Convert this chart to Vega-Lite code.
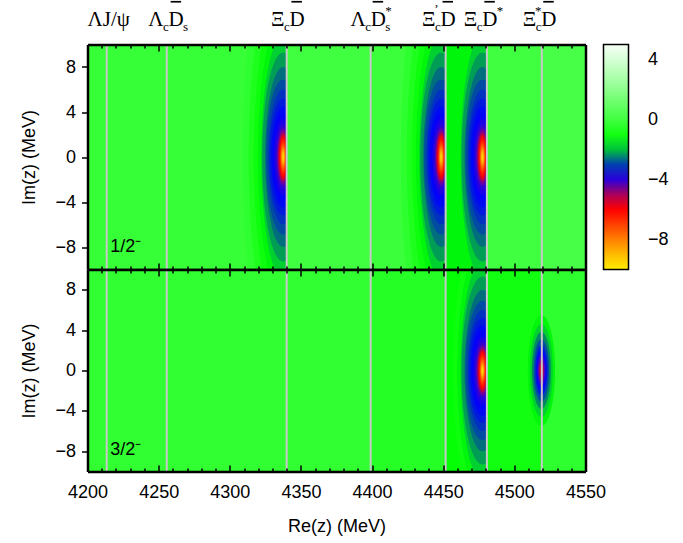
{
  "$schema": "https://vega.github.io/schema/vega-lite/v6.json",
  "background": "white",
  "padding": {"left": 20.5, "top": 0.5, "right": 5, "bottom": 5},
  "spacing": 0,
  "bounds": "flush",
  "datasets": {
    "strips": [
      {"p": "t", "s": 0, "a": 4200, "b": 4340, "v": -0.2},
      {"p": "t", "s": 1, "a": 4340, "b": 4399, "v": 0.0},
      {"p": "t", "s": 1, "a": 4399, "b": 4451.7, "v": -0.1},
      {"p": "t", "s": 2, "a": 4451.7, "b": 4480.7, "v": -1.5},
      {"p": "t", "s": 3, "a": 4480.7, "b": 4519.3, "v": 0.0},
      {"p": "t", "s": 3, "a": 4519.3, "b": 4550, "v": 0.2},
      {"p": "b", "s": 0, "a": 4451.7, "b": 4480.7, "v": -1.3},
      {"p": "b", "s": 1, "a": 4200, "b": 4399, "v": -0.3},
      {"p": "b", "s": 1, "a": 4399, "b": 4451.7, "v": -0.6},
      {"p": "b", "s": 1, "a": 4480.7, "b": 4519.3, "v": -1.0},
      {"p": "b", "s": 1, "a": 4519.3, "b": 4550, "v": -0.4}
    ],
    "poles": [
      {"p": "t", "s": 1, "x": 4337.5, "r": 20, "v": -0.4, "k": "a"},
      {"p": "t", "s": 1, "x": 4337.5, "r": 17, "v": -0.75, "k": "a"},
      {"p": "t", "s": 1, "x": 4337.5, "r": 14.5, "v": -1.1, "k": "a"},
      {"p": "t", "s": 1, "x": 4337.5, "r": 12.5, "v": -1.5, "k": "a"},
      {"p": "t", "s": 1, "x": 4337.5, "r": 10.8, "v": -1.9, "k": "a"},
      {"p": "t", "s": 1, "x": 4337.5, "r": 9.3, "v": -2.25, "k": "b"},
      {"p": "t", "s": 1, "x": 4337.5, "r": 8, "v": -2.6, "k": "b"},
      {"p": "t", "s": 1, "x": 4337.5, "r": 6.9, "v": -2.9, "k": "c"},
      {"p": "t", "s": 1, "x": 4337.5, "r": 6, "v": -3.15, "k": "c"},
      {"p": "t", "s": 1, "x": 4337.5, "r": 5.2, "v": -3.4, "k": "d"},
      {"p": "t", "s": 1, "x": 4337.5, "r": 4.5, "v": -3.6, "k": "d"},
      {"p": "t", "s": 1, "x": 4337.5, "r": 3.9, "v": -3.75, "k": "d"},
      {"p": "t", "s": 1, "x": 4337.5, "r": 3.35, "v": -3.9, "k": "d"},
      {"p": "t", "s": 1, "x": 4337.5, "r": 2.9, "v": -4.05, "k": "d"},
      {"p": "t", "s": 1, "x": 4337.5, "r": 2.55, "v": -4.4, "k": "c"},
      {"p": "t", "s": 1, "x": 4337.5, "r": 2.3, "v": -4.8, "k": "b"},
      {"p": "t", "s": 1, "x": 4337.5, "r": 2.1, "v": -5.3, "k": "b"},
      {"p": "t", "s": 1, "x": 4337.5, "r": 1.9, "v": -5.8, "k": "a"},
      {"p": "t", "s": 1, "x": 4337.5, "r": 1.7, "v": -6.2, "k": "a"},
      {"p": "t", "s": 1, "x": 4337.5, "r": 1.5, "v": -6.6, "k": "a"},
      {"p": "t", "s": 1, "x": 4337.5, "r": 1.3, "v": -7.0, "k": "a"},
      {"p": "t", "s": 1, "x": 4337.5, "r": 1.1, "v": -7.4, "k": "a"},
      {"p": "t", "s": 1, "x": 4337.5, "r": 0.95, "v": -7.8, "k": "a"},
      {"p": "t", "s": 1, "x": 4337.5, "r": 0.8, "v": -8.2, "k": "a"},
      {"p": "t", "s": 1, "x": 4337.5, "r": 0.65, "v": -8.6, "k": "a"},
      {"p": "t", "s": 1, "x": 4337.5, "r": 0.5, "v": -9.0, "k": "a"},
      {"p": "t", "s": 1, "x": 4337.5, "r": 0.38, "v": -9.4, "k": "a"},
      {"p": "t", "s": 2, "x": 4448.6, "r": 20, "v": -0.4, "k": "a"},
      {"p": "t", "s": 2, "x": 4448.6, "r": 17, "v": -0.75, "k": "a"},
      {"p": "t", "s": 2, "x": 4448.6, "r": 14.5, "v": -1.1, "k": "a"},
      {"p": "t", "s": 2, "x": 4448.6, "r": 12.5, "v": -1.5, "k": "a"},
      {"p": "t", "s": 2, "x": 4448.6, "r": 10.8, "v": -1.9, "k": "a"},
      {"p": "t", "s": 2, "x": 4448.6, "r": 9.3, "v": -2.25, "k": "b"},
      {"p": "t", "s": 2, "x": 4448.6, "r": 8, "v": -2.6, "k": "b"},
      {"p": "t", "s": 2, "x": 4448.6, "r": 6.9, "v": -2.9, "k": "c"},
      {"p": "t", "s": 2, "x": 4448.6, "r": 6, "v": -3.15, "k": "c"},
      {"p": "t", "s": 2, "x": 4448.6, "r": 5.2, "v": -3.4, "k": "d"},
      {"p": "t", "s": 2, "x": 4448.6, "r": 4.5, "v": -3.6, "k": "d"},
      {"p": "t", "s": 2, "x": 4448.6, "r": 3.9, "v": -3.75, "k": "d"},
      {"p": "t", "s": 2, "x": 4448.6, "r": 3.35, "v": -3.9, "k": "d"},
      {"p": "t", "s": 2, "x": 4448.6, "r": 2.9, "v": -4.05, "k": "d"},
      {"p": "t", "s": 2, "x": 4448.6, "r": 2.55, "v": -4.4, "k": "c"},
      {"p": "t", "s": 2, "x": 4448.6, "r": 2.3, "v": -4.8, "k": "b"},
      {"p": "t", "s": 2, "x": 4448.6, "r": 2.1, "v": -5.3, "k": "b"},
      {"p": "t", "s": 2, "x": 4448.6, "r": 1.9, "v": -5.8, "k": "a"},
      {"p": "t", "s": 2, "x": 4448.6, "r": 1.7, "v": -6.2, "k": "a"},
      {"p": "t", "s": 2, "x": 4448.6, "r": 1.5, "v": -6.6, "k": "a"},
      {"p": "t", "s": 2, "x": 4448.6, "r": 1.3, "v": -7.0, "k": "a"},
      {"p": "t", "s": 2, "x": 4448.6, "r": 1.1, "v": -7.4, "k": "a"},
      {"p": "t", "s": 2, "x": 4448.6, "r": 0.95, "v": -7.8, "k": "a"},
      {"p": "t", "s": 2, "x": 4448.6, "r": 0.8, "v": -8.2, "k": "a"},
      {"p": "t", "s": 2, "x": 4448.6, "r": 0.65, "v": -8.6, "k": "a"},
      {"p": "t", "s": 2, "x": 4448.6, "r": 0.5, "v": -9.0, "k": "a"},
      {"p": "t", "s": 2, "x": 4448.6, "r": 0.38, "v": -9.4, "k": "a"},
      {"p": "t", "s": 3, "x": 4477.6, "r": 10.8, "v": -1.9, "k": "a"},
      {"p": "t", "s": 3, "x": 4477.6, "r": 9.3, "v": -2.25, "k": "b"},
      {"p": "t", "s": 3, "x": 4477.6, "r": 8, "v": -2.6, "k": "b"},
      {"p": "t", "s": 3, "x": 4477.6, "r": 6.9, "v": -2.9, "k": "c"},
      {"p": "t", "s": 3, "x": 4477.6, "r": 6, "v": -3.15, "k": "c"},
      {"p": "t", "s": 3, "x": 4477.6, "r": 5.2, "v": -3.4, "k": "d"},
      {"p": "t", "s": 3, "x": 4477.6, "r": 4.5, "v": -3.6, "k": "d"},
      {"p": "t", "s": 3, "x": 4477.6, "r": 3.9, "v": -3.75, "k": "d"},
      {"p": "t", "s": 3, "x": 4477.6, "r": 3.35, "v": -3.9, "k": "d"},
      {"p": "t", "s": 3, "x": 4477.6, "r": 2.9, "v": -4.05, "k": "d"},
      {"p": "t", "s": 3, "x": 4477.6, "r": 2.55, "v": -4.4, "k": "c"},
      {"p": "t", "s": 3, "x": 4477.6, "r": 2.3, "v": -4.8, "k": "b"},
      {"p": "t", "s": 3, "x": 4477.6, "r": 2.1, "v": -5.3, "k": "b"},
      {"p": "t", "s": 3, "x": 4477.6, "r": 1.9, "v": -5.8, "k": "a"},
      {"p": "t", "s": 3, "x": 4477.6, "r": 1.7, "v": -6.2, "k": "a"},
      {"p": "t", "s": 3, "x": 4477.6, "r": 1.5, "v": -6.6, "k": "a"},
      {"p": "t", "s": 3, "x": 4477.6, "r": 1.3, "v": -7.0, "k": "a"},
      {"p": "t", "s": 3, "x": 4477.6, "r": 1.1, "v": -7.4, "k": "a"},
      {"p": "t", "s": 3, "x": 4477.6, "r": 0.95, "v": -7.8, "k": "a"},
      {"p": "t", "s": 3, "x": 4477.6, "r": 0.8, "v": -8.2, "k": "a"},
      {"p": "t", "s": 3, "x": 4477.6, "r": 0.65, "v": -8.6, "k": "a"},
      {"p": "t", "s": 3, "x": 4477.6, "r": 0.5, "v": -9.0, "k": "a"},
      {"p": "t", "s": 3, "x": 4477.6, "r": 0.38, "v": -9.4, "k": "a"},
      {"p": "b", "s": 1, "x": 4477.6, "r": 14.5, "v": -1.1, "k": "e"},
      {"p": "b", "s": 1, "x": 4477.6, "r": 12.5, "v": -1.5, "k": "e"},
      {"p": "b", "s": 1, "x": 4477.6, "r": 10.8, "v": -1.9, "k": "e"},
      {"p": "b", "s": 1, "x": 4477.6, "r": 9.3, "v": -2.25, "k": "f"},
      {"p": "b", "s": 1, "x": 4477.6, "r": 8, "v": -2.6, "k": "f"},
      {"p": "b", "s": 1, "x": 4477.6, "r": 6.9, "v": -2.9, "k": "g"},
      {"p": "b", "s": 1, "x": 4477.6, "r": 6, "v": -3.15, "k": "g"},
      {"p": "b", "s": 1, "x": 4477.6, "r": 5.2, "v": -3.4, "k": "h"},
      {"p": "b", "s": 1, "x": 4477.6, "r": 4.5, "v": -3.6, "k": "h"},
      {"p": "b", "s": 1, "x": 4477.6, "r": 3.9, "v": -3.75, "k": "h"},
      {"p": "b", "s": 1, "x": 4477.6, "r": 3.35, "v": -3.9, "k": "h"},
      {"p": "b", "s": 1, "x": 4477.6, "r": 2.9, "v": -4.05, "k": "h"},
      {"p": "b", "s": 1, "x": 4477.6, "r": 2.55, "v": -4.4, "k": "g"},
      {"p": "b", "s": 1, "x": 4477.6, "r": 2.3, "v": -4.8, "k": "f"},
      {"p": "b", "s": 1, "x": 4477.6, "r": 2.1, "v": -5.3, "k": "f"},
      {"p": "b", "s": 1, "x": 4477.6, "r": 1.9, "v": -5.8, "k": "e"},
      {"p": "b", "s": 1, "x": 4477.6, "r": 1.7, "v": -6.2, "k": "e"},
      {"p": "b", "s": 1, "x": 4477.6, "r": 1.5, "v": -6.6, "k": "e"},
      {"p": "b", "s": 1, "x": 4477.6, "r": 1.3, "v": -7.0, "k": "e"},
      {"p": "b", "s": 1, "x": 4477.6, "r": 1.1, "v": -7.4, "k": "e"},
      {"p": "b", "s": 1, "x": 4477.6, "r": 0.95, "v": -7.8, "k": "e"},
      {"p": "b", "s": 1, "x": 4477.6, "r": 0.8, "v": -8.2, "k": "e"},
      {"p": "b", "s": 1, "x": 4477.6, "r": 0.65, "v": -8.6, "k": "e"},
      {"p": "b", "s": 1, "x": 4477.6, "r": 0.5, "v": -9.0, "k": "e"},
      {"p": "b", "s": 1, "x": 4477.6, "r": 0.38, "v": -9.4, "k": "e"},
      {"p": "b", "s": 2, "x": 4519.0, "r": 5.5, "v": -1.5, "k": "g"},
      {"p": "b", "s": 2, "x": 4519.0, "r": 4.6, "v": -1.9, "k": "g"},
      {"p": "b", "s": 2, "x": 4519.0, "r": 3.8, "v": -2.4, "k": "g"},
      {"p": "b", "s": 2, "x": 4519.0, "r": 3.1, "v": -2.9, "k": "g"},
      {"p": "b", "s": 2, "x": 4519.0, "r": 2.5, "v": -3.4, "k": "g"},
      {"p": "b", "s": 2, "x": 4519.0, "r": 2.0, "v": -3.75, "k": "g"},
      {"p": "b", "s": 2, "x": 4519.0, "r": 1.6, "v": -4.1, "k": "g"},
      {"p": "b", "s": 2, "x": 4519.0, "r": 1.25, "v": -4.5, "k": "g"},
      {"p": "b", "s": 2, "x": 4519.0, "r": 0.95, "v": -4.9, "k": "g"},
      {"p": "b", "s": 2, "x": 4519.0, "r": 0.7, "v": -5.3, "k": "g"},
      {"p": "b", "s": 2, "x": 4519.0, "r": 0.5, "v": -5.7, "k": "g"},
      {"p": "b", "s": 2, "x": 4519.0, "r": 0.32, "v": -6.1, "k": "g"}
    ],
    "lines": [
      {"t": 4213.5}, {"t": 4255.7}, {"t": 4340}, {"t": 4399}, {"t": 4451.7}, {"t": 4480.7}, {"t": 4519.3}
    ],
    "labels": [
      {"lx": 4214.9, "m": "ΛJ/ψ", "B": "", "c": "", "pr": "", "st": "", "D": "", "bar": false, "s": "", "q": ""},
      {"lx": 4257.0, "m": "", "B": "Λ", "c": "c", "pr": "", "st": "", "D": "D", "bar": true, "s": "s", "q": ""},
      {"lx": 4341.9, "m": "", "B": "Ξ", "c": "c", "pr": "", "st": "", "D": "D", "bar": true, "s": "", "q": ""},
      {"lx": 4399.0, "m": "", "B": "Λ", "c": "c", "pr": "", "st": "", "D": "D", "bar": true, "s": "s", "q": "*"},
      {"lx": 4448.1, "m": "", "B": "Ξ", "c": "c", "pr": "’", "st": "", "D": "D", "bar": true, "s": "", "q": ""},
      {"lx": 4477.5, "m": "", "B": "Ξ", "c": "c", "pr": "", "st": "", "D": "D", "bar": true, "s": "", "q": "*"},
      {"lx": 4518.9, "m": "", "B": "Ξ", "c": "c", "pr": "", "st": "*", "D": "D", "bar": true, "s": "", "q": ""}
    ],
    "plab": [
      {"p": "t", "x": 4216, "lab": "1/2⁻"},
      {"p": "b", "x": 4216, "lab": "3/2⁻"}
    ]
  },
  "vconcat": [
    {
      "width": 498,
      "height": 225,
      "resolve": {"axis": {"x": "independent", "y": "independent"}},
      "layer": [
        {
          "data": {"name": "strips"},
          "transform": [{"filter": "datum.p == 't' && datum.s == 0"}],
          "mark": {"type": "rect", "strokeWidth": 0},
          "encoding": {
            "x": {"field": "a", "type": "quantitative", "scale": {"domain": [4200, 4550], "nice": false, "zero": false},
              "axis": {"orient": "bottom", "values": [4200, 4250, 4300, 4350, 4400, 4450, 4500, 4550], "tickSize": -6.5, "tickWidth": 1.5, "tickColor": "black", "domainWidth": 2.5, "domainColor": "black", "labels": false, "title": null, "grid": false, "zindex": 1}},
            "x2": {"field": "b"},
            "y": {"datum": -10, "type": "quantitative", "scale": {"domain": [-10, 10], "nice": false, "zero": false},
              "axis": {"orient": "left", "values": [-8, -4, 0, 4, 8], "format": "d", "tickSize": 6, "tickWidth": 1.5, "tickColor": "black", "domainWidth": 2.5, "domainColor": "black", "labelFont": "Liberation Sans", "labelFontSize": 18, "labelColor": "black", "labelPadding": 6, "labelFlush": false, "labelOverlap": false, "title": "Im(z) (MeV)", "titleFont": "Liberation Sans", "titleFontSize": 18, "titleFontWeight": "normal", "titleColor": "black", "titlePadding": 16, "grid": false, "zindex": 1}},
            "y2": {"datum": 10},
            "color": {"field": "v", "type": "quantitative",
              "scale": {"type": "linear", "interpolate": "rgb", "clamp": true, "domain": [-10, -9, -8, -7, -6, -5.2, -4.5, -3.7, -3, -2.5, -1.9, -1.4, 0, 2.5, 5], "range": ["#ffee00", "#ffbb00", "#ff8000", "#ff4000", "#ff0000", "#c00040", "#7000a0", "#0000ff", "#0040b0", "#007a70", "#00d030", "#00ff00", "#40ff40", "#a0ffa0", "#f8fff8"]},
              "legend": {"title": null, "orient": "right", "offset": -3, "direction": "vertical", "gradientLength": 225, "gradientThickness": 25, "values": [-8, -4, 0, 4], "format": "d", "labelFont": "Liberation Sans", "labelFontSize": 18, "labelColor": "black", "labelOffset": 19.5, "labelAlign": "center", "labelOverlap": false, "gradientStrokeColor": "black", "gradientStrokeWidth": 1.5}}
          }
        },
        {
          "data": {"name": "poles"},
          "transform": [{"filter": "datum.p == 't' && datum.s == 1"}],
          "mark": {"type": "point", "filled": true, "opacity": 1, "strokeWidth": 0, "clip": true},
          "encoding": {
            "x": {"field": "x", "type": "quantitative", "scale": {"domain": [4200, 4550], "nice": false, "zero": false},
              "axis": {"orient": "bottom", "values": [4210, 4220, 4230, 4240, 4260, 4270, 4280, 4290, 4310, 4320, 4330, 4340, 4360, 4370, 4380, 4390, 4410, 4420, 4430, 4440, 4460, 4470, 4480, 4490, 4510, 4520, 4530, 4540], "tickSize": -3.5, "tickWidth": 1.5, "tickColor": "black", "domain": false, "labels": false, "title": null, "grid": false, "zindex": 1}},
            "y": {"datum": 0, "type": "quantitative", "scale": {"domain": [-10, 10], "nice": false, "zero": false},
              "axis": {"orient": "right", "ticks": false, "labels": false, "domainWidth": 2.5, "domainColor": "black", "title": null, "grid": false, "zindex": 1}},
            "size": {"field": "r", "type": "quantitative", "scale": {"type": "pow", "exponent": 2, "domain": [0, 20], "range": [0, 202500]}, "legend": null},
            "shape": {"field": "k", "type": "nominal", "legend": null, "scale": {"domain": ["a", "b", "c", "d", "e", "f", "g", "h"], "range": [
              "M0,-1C0.0994,-1 0.18,-0.5523 0.18,0C0.18,0.5523 0.0994,1 0,1C-0.0994,1 -0.18,0.5523 -0.18,0C-0.18,-0.5523 -0.0994,-1 0,-1Z",
              "M0,-1C0.1105,-1 0.2,-0.5523 0.2,0C0.2,0.5523 0.1105,1 0,1C-0.1105,1 -0.2,0.5523 -0.2,0C-0.2,-0.5523 -0.1105,-1 0,-1Z",
              "M0,-1C0.1215,-1 0.22,-0.5523 0.22,0C0.22,0.5523 0.1215,1 0,1C-0.1215,1 -0.22,0.5523 -0.22,0C-0.22,-0.5523 -0.1215,-1 0,-1Z",
              "M0,-1C0.1298,-1 0.235,-0.5523 0.235,0C0.235,0.5523 0.1298,1 0,1C-0.1298,1 -0.235,0.5523 -0.235,0C-0.235,-0.5523 -0.1298,-1 0,-1Z",
              "M0,-0.898C0.0994,-0.898 0.18,-0.496 0.18,0C0.18,0.496 0.0994,0.898 0,0.898C-0.0994,0.898 -0.18,0.496 -0.18,0C-0.18,-0.496 -0.0994,-0.898 0,-0.898Z",
              "M0,-0.898C0.1105,-0.898 0.2,-0.496 0.2,0C0.2,0.496 0.1105,0.898 0,0.898C-0.1105,0.898 -0.2,0.496 -0.2,0C-0.2,-0.496 -0.1105,-0.898 0,-0.898Z",
              "M0,-0.898C0.1215,-0.898 0.22,-0.496 0.22,0C0.22,0.496 0.1215,0.898 0,0.898C-0.1215,0.898 -0.22,0.496 -0.22,0C-0.22,-0.496 -0.1215,-0.898 0,-0.898Z",
              "M0,-0.898C0.1298,-0.898 0.235,-0.496 0.235,0C0.235,0.496 0.1298,0.898 0,0.898C-0.1298,0.898 -0.235,0.496 -0.235,0C-0.235,-0.496 -0.1298,-0.898 0,-0.898Z"]}},
            "color": {"field": "v", "type": "quantitative"}
          }
        },
        {
          "data": {"name": "strips"},
          "transform": [{"filter": "datum.p == 't' && datum.s == 1"}],
          "mark": {"type": "rect", "strokeWidth": 0},
          "encoding": {
            "x": {"field": "a", "type": "quantitative",
              "axis": {"orient": "top", "values": [4200, 4250, 4300, 4350, 4400, 4450, 4500, 4550], "tickSize": -6.5, "tickWidth": 1.5, "tickColor": "black", "domainWidth": 2.5, "domainColor": "black", "labels": false, "title": null, "grid": false, "zindex": 1}},
            "x2": {"field": "b"},
            "y": {"datum": -10, "type": "quantitative", "axis": null},
            "y2": {"datum": 10},
            "color": {"field": "v", "type": "quantitative"}
          }
        },
        {
          "data": {"name": "poles"},
          "transform": [{"filter": "datum.p == 't' && datum.s == 2"}],
          "mark": {"type": "point", "filled": true, "opacity": 1, "strokeWidth": 0, "clip": true},
          "encoding": {
            "x": {"field": "x", "type": "quantitative",
              "axis": {"orient": "top", "values": [4210, 4220, 4230, 4240, 4260, 4270, 4280, 4290, 4310, 4320, 4330, 4340, 4360, 4370, 4380, 4390, 4410, 4420, 4430, 4440, 4460, 4470, 4480, 4490, 4510, 4520, 4530, 4540], "tickSize": -3.5, "tickWidth": 1.5, "tickColor": "black", "domain": false, "labels": false, "title": null, "grid": false, "zindex": 1}},
            "y": {"datum": 0, "type": "quantitative", "axis": null},
            "size": {"field": "r", "type": "quantitative", "legend": null},
            "shape": {"field": "k", "type": "nominal", "legend": null},
            "color": {"field": "v", "type": "quantitative"}
          }
        },
        {
          "data": {"name": "strips"},
          "transform": [{"filter": "datum.p == 't' && datum.s == 2"}],
          "mark": {"type": "rect", "strokeWidth": 0},
          "encoding": {
            "x": {"field": "a", "type": "quantitative", "axis": null},
            "x2": {"field": "b"},
            "y": {"datum": -10, "type": "quantitative", "axis": null},
            "y2": {"datum": 10},
            "color": {"field": "v", "type": "quantitative"}
          }
        },
        {
          "data": {"name": "poles"},
          "transform": [{"filter": "datum.p == 't' && datum.s == 3"}],
          "mark": {"type": "point", "filled": true, "opacity": 1, "strokeWidth": 0, "clip": true},
          "encoding": {
            "x": {"field": "x", "type": "quantitative", "axis": null},
            "y": {"datum": 0, "type": "quantitative", "axis": null},
            "size": {"field": "r", "type": "quantitative", "legend": null},
            "shape": {"field": "k", "type": "nominal", "legend": null},
            "color": {"field": "v", "type": "quantitative"}
          }
        },
        {
          "data": {"name": "strips"},
          "transform": [{"filter": "datum.p == 't' && datum.s == 3"}],
          "mark": {"type": "rect", "strokeWidth": 0},
          "encoding": {
            "x": {"field": "a", "type": "quantitative", "axis": null},
            "x2": {"field": "b"},
            "y": {"datum": -10, "type": "quantitative", "axis": null},
            "y2": {"datum": 10},
            "color": {"field": "v", "type": "quantitative"}
          }
        },
        {
          "data": {"name": "lines"},
          "mark": {"type": "rule", "color": "#c8c8c8", "strokeWidth": 2},
          "encoding": {
            "x": {"field": "t", "type": "quantitative", "axis": null},
            "y": {"datum": -10, "type": "quantitative", "axis": null},
            "y2": {"datum": 10}
          }
        },
        {
          "data": {"name": "labels"},
          "mark": {"type": "text", "font": "Liberation Serif", "fontSize": 21, "align": "center", "baseline": "alphabetic", "color": "black"},
          "encoding": {
            "x": {"field": "lx", "type": "quantitative", "axis": null},
            "y": {"datum": 11.65, "type": "quantitative", "axis": null},
            "text": {"field": "m"}
          }
        },
        {
          "data": {"name": "labels"},
          "mark": {"type": "text", "font": "Liberation Serif", "fontSize": 21, "align": "right", "baseline": "alphabetic", "dx": -5, "color": "black"},
          "encoding": {
            "x": {"field": "lx", "type": "quantitative", "axis": null},
            "y": {"datum": 11.65, "type": "quantitative", "axis": null},
            "text": {"field": "B"}
          }
        },
        {
          "data": {"name": "labels"},
          "mark": {"type": "text", "font": "Liberation Serif", "fontSize": 13, "align": "center", "baseline": "alphabetic", "dx": -2.6, "dy": 4.7, "color": "black"},
          "encoding": {
            "x": {"field": "lx", "type": "quantitative", "axis": null},
            "y": {"datum": 11.65, "type": "quantitative", "axis": null},
            "text": {"field": "c"}
          }
        },
        {
          "data": {"name": "labels"},
          "mark": {"type": "text", "font": "Liberation Serif", "fontSize": 13, "align": "center", "baseline": "alphabetic", "dx": -4, "dy": -13, "color": "black"},
          "encoding": {
            "x": {"field": "lx", "type": "quantitative", "axis": null},
            "y": {"datum": 11.65, "type": "quantitative", "axis": null},
            "text": {"field": "pr"}
          }
        },
        {
          "data": {"name": "labels"},
          "mark": {"type": "text", "font": "Liberation Serif", "fontSize": 13, "align": "center", "baseline": "alphabetic", "dx": -3, "dy": -11, "color": "black"},
          "encoding": {
            "x": {"field": "lx", "type": "quantitative", "axis": null},
            "y": {"datum": 11.65, "type": "quantitative", "axis": null},
            "text": {"field": "st"}
          }
        },
        {
          "data": {"name": "labels"},
          "mark": {"type": "text", "font": "Liberation Serif", "fontSize": 21, "align": "left", "baseline": "alphabetic", "dx": 0, "color": "black"},
          "encoding": {
            "x": {"field": "lx", "type": "quantitative", "axis": null},
            "y": {"datum": 11.65, "type": "quantitative", "axis": null},
            "text": {"field": "D"}
          }
        },
        {
          "data": {"name": "labels"},
          "transform": [{"filter": "datum.bar"}],
          "mark": {"type": "rule", "color": "black", "strokeWidth": 1.7, "xOffset": 2, "x2Offset": 12.5},
          "encoding": {
            "x": {"field": "lx", "type": "quantitative", "axis": null},
            "x2": {"field": "lx"},
            "y": {"datum": 13.8, "type": "quantitative", "axis": null}
          }
        },
        {
          "data": {"name": "labels"},
          "mark": {"type": "text", "font": "Liberation Serif", "fontSize": 13, "align": "left", "baseline": "alphabetic", "dx": 14.5, "dy": 5, "color": "black"},
          "encoding": {
            "x": {"field": "lx", "type": "quantitative", "axis": null},
            "y": {"datum": 11.65, "type": "quantitative", "axis": null},
            "text": {"field": "s"}
          }
        },
        {
          "data": {"name": "labels"},
          "mark": {"type": "text", "font": "Liberation Serif", "fontSize": 13, "align": "left", "baseline": "alphabetic", "dx": 14.5, "dy": -11, "color": "black"},
          "encoding": {
            "x": {"field": "lx", "type": "quantitative", "axis": null},
            "y": {"datum": 11.65, "type": "quantitative", "axis": null},
            "text": {"field": "q"}
          }
        },
        {
          "data": {"name": "plab"},
          "transform": [{"filter": "datum.p == 't'"}],
          "mark": {"type": "text", "font": "Liberation Sans", "fontSize": 18, "align": "left", "baseline": "alphabetic", "color": "black"},
          "encoding": {
            "x": {"field": "x", "type": "quantitative", "axis": null},
            "y": {"datum": -8.4, "type": "quantitative", "axis": null},
            "text": {"field": "lab"}
          }
        }
      ]
    },
    {
      "width": 498,
      "height": 202,
      "resolve": {"axis": {"x": "independent", "y": "independent"}},
      "layer": [
        {
          "data": {"name": "strips"},
          "transform": [{"filter": "datum.p == 'b' && datum.s == 0"}],
          "mark": {"type": "rect", "strokeWidth": 0},
          "encoding": {
            "x": {"field": "a", "type": "quantitative", "scale": {"domain": [4200, 4550], "nice": false, "zero": false},
              "axis": {"orient": "bottom", "values": [4200, 4250, 4300, 4350, 4400, 4450, 4500, 4550], "format": "d", "tickSize": -6.5, "tickWidth": 1.5, "tickColor": "black", "domainWidth": 2.5, "domainColor": "black", "labelFont": "Liberation Sans", "labelFontSize": 18, "labelColor": "black", "labelPadding": 18.5, "labelFlush": false, "labelOverlap": false, "title": "Re(z) (MeV)", "titleFont": "Liberation Sans", "titleFontSize": 18, "titleFontWeight": "normal", "titleColor": "black", "titlePadding": 16, "grid": false, "zindex": 1}},
            "x2": {"field": "b"},
            "y": {"datum": -10, "type": "quantitative", "scale": {"domain": [-10, 10], "nice": false, "zero": false},
              "axis": {"orient": "left", "values": [-8, -4, 0, 4, 8], "format": "d", "tickSize": 6, "tickWidth": 1.5, "tickColor": "black", "domainWidth": 2.5, "domainColor": "black", "labelFont": "Liberation Sans", "labelFontSize": 18, "labelColor": "black", "labelPadding": 6, "labelFlush": false, "labelOverlap": false, "title": "Im(z) (MeV)", "titleFont": "Liberation Sans", "titleFontSize": 18, "titleFontWeight": "normal", "titleColor": "black", "titlePadding": 16, "grid": false, "zindex": 1}},
            "y2": {"datum": 10},
            "color": {"field": "v", "type": "quantitative"}
          }
        },
        {
          "data": {"name": "poles"},
          "transform": [{"filter": "datum.p == 'b' && datum.s == 1"}],
          "mark": {"type": "point", "filled": true, "opacity": 1, "strokeWidth": 0, "clip": true},
          "encoding": {
            "x": {"field": "x", "type": "quantitative", "scale": {"domain": [4200, 4550], "nice": false, "zero": false},
              "axis": {"orient": "bottom", "values": [4210, 4220, 4230, 4240, 4260, 4270, 4280, 4290, 4310, 4320, 4330, 4340, 4360, 4370, 4380, 4390, 4410, 4420, 4430, 4440, 4460, 4470, 4480, 4490, 4510, 4520, 4530, 4540], "tickSize": -3.5, "tickWidth": 1.5, "tickColor": "black", "domain": false, "labels": false, "title": null, "grid": false, "zindex": 1}},
            "y": {"datum": 0, "type": "quantitative", "scale": {"domain": [-10, 10], "nice": false, "zero": false},
              "axis": {"orient": "right", "ticks": false, "labels": false, "domainWidth": 2.5, "domainColor": "black", "title": null, "grid": false, "zindex": 1}},
            "size": {"field": "r", "type": "quantitative", "scale": {"type": "pow", "exponent": 2, "domain": [0, 20], "range": [0, 202500]}, "legend": null},
            "shape": {"field": "k", "type": "nominal", "legend": null},
            "color": {"field": "v", "type": "quantitative"}
          }
        },
        {
          "data": {"name": "strips"},
          "transform": [{"filter": "datum.p == 'b' && datum.s == 1"}],
          "mark": {"type": "rect", "strokeWidth": 0},
          "encoding": {
            "x": {"field": "a", "type": "quantitative",
              "axis": {"orient": "top", "values": [4200, 4250, 4300, 4350, 4400, 4450, 4500, 4550], "tickSize": -6.5, "tickWidth": 1.5, "tickColor": "black", "domainWidth": 2.5, "domainColor": "black", "labels": false, "title": null, "grid": false, "zindex": 1}},
            "x2": {"field": "b"},
            "y": {"datum": -10, "type": "quantitative", "axis": null},
            "y2": {"datum": 10},
            "color": {"field": "v", "type": "quantitative"}
          }
        },
        {
          "data": {"name": "poles"},
          "transform": [{"filter": "datum.p == 'b' && datum.s == 2"}],
          "mark": {"type": "point", "filled": true, "opacity": 1, "strokeWidth": 0, "clip": true},
          "encoding": {
            "x": {"field": "x", "type": "quantitative",
              "axis": {"orient": "top", "values": [4210, 4220, 4230, 4240, 4260, 4270, 4280, 4290, 4310, 4320, 4330, 4340, 4360, 4370, 4380, 4390, 4410, 4420, 4430, 4440, 4460, 4470, 4480, 4490, 4510, 4520, 4530, 4540], "tickSize": -3.5, "tickWidth": 1.5, "tickColor": "black", "domain": false, "labels": false, "title": null, "grid": false, "zindex": 1}},
            "y": {"datum": 0, "type": "quantitative", "axis": null},
            "size": {"field": "r", "type": "quantitative", "legend": null},
            "shape": {"field": "k", "type": "nominal", "legend": null},
            "color": {"field": "v", "type": "quantitative"}
          }
        },
        {
          "data": {"name": "lines"},
          "mark": {"type": "rule", "color": "#c8c8c8", "strokeWidth": 2},
          "encoding": {
            "x": {"field": "t", "type": "quantitative", "axis": null},
            "y": {"datum": -10, "type": "quantitative", "axis": null},
            "y2": {"datum": 10}
          }
        },
        {
          "data": {"name": "plab"},
          "transform": [{"filter": "datum.p == 'b'"}],
          "mark": {"type": "text", "font": "Liberation Sans", "fontSize": 18, "align": "left", "baseline": "alphabetic", "color": "black"},
          "encoding": {
            "x": {"field": "x", "type": "quantitative", "axis": null},
            "y": {"datum": -8.4, "type": "quantitative", "axis": null},
            "text": {"field": "lab"}
          }
        }
      ]
    }
  ],
  "config": {
    "view": {"stroke": null},
    "axis": {"grid": false}
  }
}
